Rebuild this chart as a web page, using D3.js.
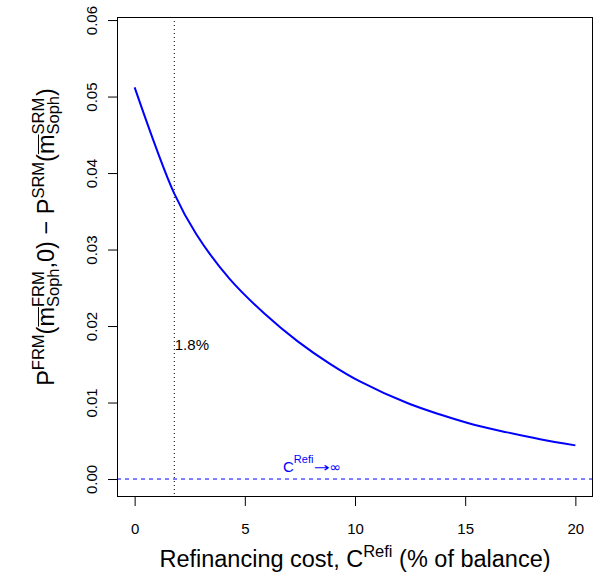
<!DOCTYPE html>
<html>
<head>
<meta charset="utf-8">
<title>Refinancing cost</title>
<script src="https://cdn.jsdelivr.net/npm/d3@7"></script>
<style>
  body { margin: 0; background: #fff; }
  text { font-family: "Liberation Sans", Arial, sans-serif; }
</style>
</head>
<body>
<div id="chart"></div>
<script>
// values
var costX = [0, 1.8, 2.8, 4.3, 5.9, 7.4, 8.9, 10.2, 12.4, 13.9, 15.4, 16.9, 18.4, 20];
var diffY = [0.0512, 0.0373, 0.0320, 0.0262, 0.0216, 0.0180, 0.0150, 0.0128, 0.0099, 0.0084, 0.0071, 0.0061, 0.0052, 0.0044];
var xTicks = [0, 5, 10, 15, 20];
var yTicks = [0, 0.01, 0.02, 0.03, 0.04, 0.05, 0.06];
var yTickLabels = ["0.00", "0.01", "0.02", "0.03", "0.04", "0.05", "0.06"];
var markCost = 1.8;
var markLabel = "1.8%";

var width = 600, height = 574;
var L = 117, R = 593, T = 17, B = 497;

var svg = d3.select("#chart").append("svg")
  .attr("width", width)
  .attr("height", height);

var x = d3.scaleLinear().domain([-0.8, 20.8]).range([L, R]);
var y = d3.scaleLinear().domain([-0.00235, 0.0604]).range([B, T]);

// zero line (dashed blue)
svg.append("line")
  .attr("x1", L).attr("x2", R)
  .attr("y1", y(0)).attr("y2", y(0))
  .attr("stroke", "#0000ff").attr("stroke-width", 1)
  .attr("stroke-dasharray", "4,4");

// dotted line at 1.8%
svg.append("line")
  .attr("x1", x(markCost)).attr("x2", x(markCost))
  .attr("y1", T).attr("y2", B)
  .attr("stroke", "#000").attr("stroke-width", 1)
  .attr("stroke-dasharray", "1,3");

svg.append("text")
  .attr("x", x(markCost) + 0.5)
  .attr("y", 350)
  .attr("font-size", 15)
  .attr("fill", "#000")
  .text(markLabel);

// curve
var pts = costX.map(function(d, i) { return [d, diffY[i]]; });
var line = d3.line()
  .x(function(d) { return x(d[0]); })
  .y(function(d) { return y(d[1]); })
  .curve(d3.curveCatmullRom.alpha(0.5));

svg.append("path")
  .datum(pts)
  .attr("d", line)
  .attr("fill", "none")
  .attr("stroke", "#0000ff")
  .attr("stroke-width", 2);

// axes
var xAxis = svg.append("g")
  .attr("transform", "translate(0," + B + ")")
  .call(d3.axisBottom(x).tickValues(xTicks).tickSize(9).tickPadding(17).tickSizeOuter(0));
xAxis.select(".domain").remove();
xAxis.selectAll("text").attr("font-size", 15).attr("fill", "#000")
  .style("font-family", "Liberation Sans, Arial, sans-serif");
xAxis.selectAll("line").attr("stroke", "#000");

var yAxis = svg.append("g")
  .attr("transform", "translate(" + L + ",0)")
  .call(d3.axisLeft(y).tickValues(yTicks).tickSize(9).tickFormat(function(d, i) { return yTickLabels[i]; }).tickSizeOuter(0));
yAxis.select(".domain").remove();
yAxis.selectAll("line").attr("stroke", "#000");
yAxis.selectAll("text")
  .attr("font-size", 15).attr("fill", "#000")
  .style("font-family", "Liberation Sans, Arial, sans-serif")
  .attr("x", null).attr("dy", null)
  .attr("text-anchor", "middle")
  .attr("transform", "translate(-20,0) rotate(-90)");

// box
svg.append("rect")
  .attr("x", L + 0.5).attr("y", T + 0.5)
  .attr("width", R - L - 1).attr("height", B - T - 1)
  .attr("fill", "none").attr("stroke", "#000").attr("stroke-width", 1);

// lay out rich text pieces one after another, measuring each
function rich(g, pieces, color) {
  var cx = 0;
  pieces.forEach(function(p) {
    if (p.stack) {
      var a = g.append("text").attr("x", cx).attr("y", -p.up).attr("font-size", p.fs).attr("fill", color).text(p.stack[0]);
      var b = g.append("text").attr("x", cx).attr("y", p.down).attr("font-size", p.fs).attr("fill", color).text(p.stack[1]);
      cx += Math.max(a.node().getComputedTextLength(), b.node().getComputedTextLength());
    } else {
      var t = g.append("text").attr("x", cx).attr("y", -(p.up || 0)).attr("font-size", p.fs).attr("fill", color).text(p.t);
      if (p.family) t.style("font-family", p.family);
      if (p.len) t.attr("textLength", p.len).attr("lengthAdjust", "spacingAndGlyphs");
      var w = p.len || t.node().getComputedTextLength();
      if (p.ov) {
        g.append("line").attr("x1", cx).attr("x2", cx + w)
          .attr("y1", -p.fs * 0.66).attr("y2", -p.fs * 0.66)
          .attr("stroke", color).attr("stroke-width", 1);
      }
      cx += w + (p.gap || 0);
    }
  });
  return cx;
}

// x title
var xt = svg.append("g");
var xw = rich(xt, [
  {t: "Refinancing cost, C", fs: 23.5},
  {t: "Refi", fs: 16.5, up: 10},
  {t: "\u00a0(% of balance)", fs: 23.5}
], "#000");
xt.attr("transform", "translate(" + ((L + R) / 2 - xw / 2) + ",567)");

// y title
var yt = svg.append("g");
var yw = rich(yt, [
  {t: "P", fs: 23.5},
  {t: "FRM", fs: 16.5, up: 10.5},
  {t: "(", fs: 23.5},
  {t: "m", fs: 23.5, ov: true},
  {stack: ["FRM", "Soph"], fs: 16.5, up: 10.5, down: 5},
  {t: ",0) \u2212 P", fs: 23.5},
  {t: "SRM", fs: 16.5, up: 10.5},
  {t: "(", fs: 23.5},
  {t: "m", fs: 23.5, ov: true},
  {stack: ["SRM", "Soph"], fs: 16.5, up: 10.5, down: 5},
  {t: ")", fs: 23.5}
], "#000");
yt.attr("transform", "translate(54," + (237 + yw / 2) + ") rotate(-90)");

// C^Refi -> infinity label
var ct = svg.append("g");
rich(ct, [
  {t: "C", fs: 15},
  {t: "Refi", fs: 11, up: 9},
  {t: "\u2192", fs: 13, up: 0, len: 16, family: "DejaVu Sans"},
  {t: "\u221e", fs: 14, up: 0, family: "DejaVu Sans"}
], "#0000ff");
ct.attr("transform", "translate(283,472)");
</script>
</body>
</html>
